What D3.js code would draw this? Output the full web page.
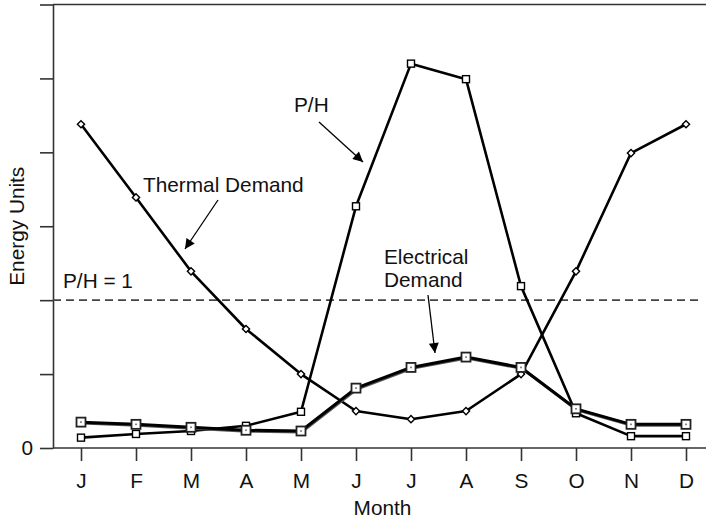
<!DOCTYPE html>
<html><head><meta charset="utf-8">
<script src="https://cdn.jsdelivr.net/npm/d3@7"></script>
<style>
html,body{margin:0;padding:0;background:#fff;}
svg text{font-family:"Liberation Sans",Arial,Helvetica,sans-serif;fill:#111;}
</style></head>
<body>
<svg id="chart" width="706" height="523"></svg>
<script>
const months = ["J","F","M","A","M","J","J","A","S","O","N","D"];
const thermal = [4.38,3.39,2.39,1.61,1.00,0.50,0.39,0.50,1.00,2.39,3.99,4.38];
const powerHeat = [0.14,0.19,0.23,0.30,0.49,3.27,5.20,4.99,2.19,0.47,0.16,0.16];
const electrical = [0.35,0.32,0.28,0.24,0.23,0.81,1.09,1.23,1.09,0.53,0.32,0.32];
const yTicks = [0,1,2,3,4,5,6];
const yTickLabels = ["0","","","","","",""];
const phOne = 2;

const svg = d3.select("#chart");
const mLeft = 53, mRight = 706, mTop = 4.5, mBottom = 448;
const x = d3.scalePoint().domain(d3.range(months.length)).range([81, 686]);
const y = d3.scaleLinear().domain([0, 6]).range([mBottom, mTop]);
const axisColor = "#333";
const FS = "20.8px";

// Y axis
const yAxis = svg.append("g").attr("transform", `translate(${mLeft},0)`)
  .call(d3.axisLeft(y).tickValues(yTicks).tickSize(13).tickSizeOuter(0)
    .tickFormat((d,i)=>yTickLabels[i]).tickPadding(7));
yAxis.select(".domain").attr("stroke", axisColor).attr("stroke-width", 1.6);
yAxis.selectAll(".tick line").attr("stroke", axisColor).attr("stroke-width", 1.6);
yAxis.selectAll(".tick text").style("font-size", FS).attr("fill","#111").attr("font-family",null);

// bottom and top frame lines
svg.append("line").attr("x1", mLeft).attr("x2", mRight).attr("y1", y(0)).attr("y2", y(0))
  .attr("stroke", axisColor).attr("stroke-width", 1.6);
svg.append("line").attr("x1", mLeft).attr("x2", mRight).attr("y1", y(6)).attr("y2", y(6))
  .attr("stroke", axisColor).attr("stroke-width", 1.6);

// X axis
const xAxis = svg.append("g").attr("transform", `translate(0,${y(0)})`)
  .call(d3.axisBottom(x).tickSize(13).tickSizeOuter(0).tickFormat(i=>months[i]).tickPadding(12));
xAxis.select(".domain").remove();
xAxis.selectAll(".tick line").attr("stroke", axisColor).attr("stroke-width", 1.6);
xAxis.selectAll(".tick text").style("font-size", FS).attr("fill","#111").attr("font-family",null);

// axis titles
svg.append("text").attr("x", (mLeft+mRight)/2 + 3).attr("y", 515).attr("text-anchor","middle")
  .style("font-size", FS).text("Month");
svg.append("text").attr("transform", `translate(24,${y(3)})rotate(-90)`).attr("text-anchor","middle")
  .style("font-size", FS).text("Energy Units");

// P/H = 1 dashed
svg.append("line").attr("x1", mLeft).attr("x2", mRight-4).attr("y1", y(phOne)).attr("y2", y(phOne))
  .attr("stroke", "#444").attr("stroke-width", 1.6).attr("stroke-dasharray", "8,5");
svg.append("text").attr("x", 63).attr("y", y(phOne)-12).style("font-size", FS).text("P/H = 1");

const line = d3.line().x((d,i)=>x(i)).y(d=>y(d));

// Thermal
svg.append("path").datum(thermal).attr("d", line).attr("fill","none")
  .attr("stroke","#000").attr("stroke-width",2.6).attr("stroke-linejoin","round");
svg.append("g").selectAll("path").data(thermal).join("path")
  .attr("d", d3.symbol(d3.symbolSquare, 26))
  .attr("transform",(d,i)=>`translate(${x(i)},${y(d)})rotate(45)`)
  .attr("fill","#fff").attr("stroke","#000").attr("stroke-width",1.4);

// P/H
svg.append("path").datum(powerHeat).attr("d", line).attr("fill","none")
  .attr("stroke","#000").attr("stroke-width",2.6).attr("stroke-linejoin","round");
svg.append("g").selectAll("rect").data(powerHeat).join("rect")
  .attr("x",(d,i)=>x(i)-3.5).attr("y",d=>y(d)-3.5).attr("width",7).attr("height",7)
  .attr("fill","#fff").attr("stroke","#000").attr("stroke-width",1.4);

// Electrical (doubled)
const eg = svg.append("g");
eg.append("path").datum(electrical).attr("d", line).attr("fill","none")
  .attr("transform","translate(0.8,0.9)")
  .attr("stroke","#555").attr("stroke-width",3).attr("stroke-linejoin","round");
eg.append("path").datum(electrical).attr("d", line).attr("fill","none")
  .attr("stroke","#000").attr("stroke-width",3).attr("stroke-linejoin","round");
eg.selectAll("rect.o").data(electrical).join("rect").attr("class","o")
  .attr("x",(d,i)=>x(i)-4.5).attr("y",d=>y(d)-4.5).attr("width",9).attr("height",9)
  .attr("fill","#fff").attr("stroke","#222").attr("stroke-width",1.8);
eg.selectAll("rect.d").data(electrical).join("rect").attr("class","d")
  .attr("x",(d,i)=>x(i)-0.8).attr("y",d=>y(d)-0.8).attr("width",1.6).attr("height",1.6)
  .attr("fill","#666");

// annotations
svg.append("defs").append("marker").attr("id","ah").attr("viewBox","0 0 10 10")
  .attr("refX",10).attr("refY",5).attr("markerWidth",12).attr("markerHeight",10)
  .attr("markerUnits","userSpaceOnUse").attr("orient","auto")
  .append("path").attr("d","M0,0 L10,5 L0,10 z").attr("fill","#000");

function annot(txt, tx, ty, x1, y1, x2, y2){
  const t = svg.append("text").attr("x", tx).attr("y", ty).style("font-size", FS);
  txt.forEach((s,k)=>t.append("tspan").attr("x",tx).attr("dy", k?"1.1em":0).text(s));
  svg.append("line").attr("x1",x1).attr("y1",y1).attr("x2",x2).attr("y2",y2)
    .attr("stroke","#000").attr("stroke-width",1.3).attr("marker-end","url(#ah)");
}
annot(["Thermal Demand"], 143, 192, 218, 200, 185, 249);
annot(["P/H"], 294, 112, 319, 122, 363, 162);
annot(["Electrical","Demand"], 384, 264, 428, 295, 435, 353);
</script>
</body></html>
